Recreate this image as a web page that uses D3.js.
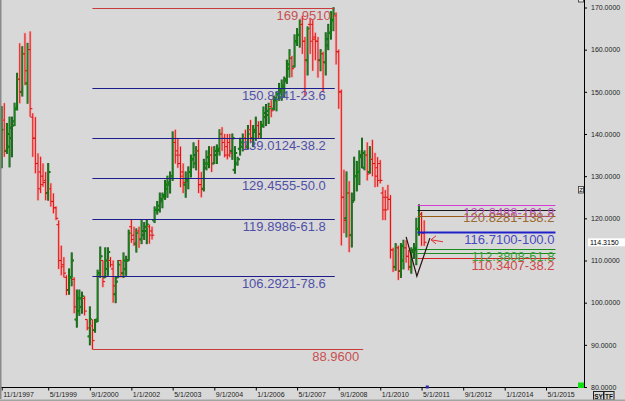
<!DOCTYPE html>
<html>
<head>
<meta charset="utf-8">
<title>EURJPY monthly bars with fib levels</title>
<script src="https://cdn.jsdelivr.net/npm/d3@7"></script>
<style>
  body { margin: 0; background: #d8d8d8; }
  svg { display: block; font-family: Arial, "Liberation Sans", sans-serif; }
</style>
</head>
<body>
<div id="chart"></div>
<script>
// monthly OHLC, first bar Nov 1997
var firstMonth = "1997-11-01";
var opens = [134,143.3,136,137,139,143,146,153,150,159,152,160,144,139,133,131,130,129,126,127,124,122.5,118.5,110,109,106,103,106,105.5,96,98,99,101,96,92,94.5,93.5,96,107,110,106,108,110,108,102,106,110,107,108,110,118,116,114,117,115,116,117,118,117,119.5,122,122,124,125,127,128,130,138,136,135,131,128,129,131,134,133,136,128,127,132,133,135,133,135,136,140,139,137,138,136,131.5,133,136.5,137,139,137,141,139,140.5,142,140,142,144,144.5,146.5,146,148,149.5,150,151,152.5,155.5,158,156,162,163.5,166,162,157.5,166,166,163,162,157.5,159,157,161,164,167,168,159.5,150,125,120,126,116,124,130,131,134.5,132,135,131,134,133,132,133,126,125,125,124.5,112.5,108.5,113,107.5,110,113,111,108.5,112,112.5,117.5,121,116.5];
var highs = [146.5,147.3,142.5,144,144,147.3,154.4,161.5,160.7,163.9,161.5,164.3,144.9,144,135.4,134.6,133,131,133,128.3,125.9,122.8,119.5,113.5,110.8,106.5,108,111.8,106,103,103,102.5,101.5,96,99,96,96,107.7,113.2,110,113,113,110.8,110,106,110,110,111.8,111,117.2,119.6,118,117.5,118,119.7,119,119.5,118.5,118,122.7,124,126,126,129,130,131,140.5,141,139,137,133,131,132.2,135,137.9,137,138.6,131,134,136,137,137,137,137.4,141,141.6,140,140,140,140,137,134.5,139,140,141,142,143.3,142,144,143,143,146.4,147,147.3,148,149,150,152,152.8,153.5,157.5,160,158.5,163.5,165,167,168,163,165.4,167.5,167,164,163,160,159.5,164,166,169,169.951,168.8,160,150.5,131.5,131,128.8,126,134.5,133.5,136,139,136,138,137,138.6,135.5,134.5,133.8,127.4,126.7,127.9,125.5,113,114,113.5,114,114.8,114.8,112.5,113,114,120,123.2,121.5,119.5];
var lows = [132,134.6,135.4,132.2,134.6,142,145.7,147.3,149,151.6,147.3,144.1,134.6,130.7,124.3,126,127.5,124.3,124.3,122.8,121.2,119.6,108,106.5,106,101.8,102,104,97.5,94.2,97,97.5,97,93.5,90,88.96,93,95.5,106,103.7,106,106.5,108.4,100,100,106,106,106,106.5,110,114.2,113.5,112,113,114,115,114,114,115,119,121,121.5,122.5,124.5,125,126,129,133,132,127.4,126,125,127,129.8,132,131.5,126,125,126.5,131.5,132,131,133,133,135,136,134.5,134,134.5,134,130.7,132.6,135,136,136.2,136.5,138,137,138.5,139,139,141.6,142,142.5,144,145.7,145.5,148,148,148.8,152,153.5,153.5,155.9,161,160.6,159,149,154,159,155,157.5,153.4,155,150,154,160,162.5,164.5,156.5,146,113.6,116.5,115.6,112,113.2,124.3,126.5,128,132,131.5,129,130.7,130,127.4,127.5,128.3,119.6,119.6,122,110.5,107.3,107.7,105.4,106,108,109.5,107.7,107,110.5,109,116,113.5,113.5];
var closes = [141,136,140,141.5,142,146,153,150,159,155,160,146,139,133,127,128,128.5,126,131,124,122.5,120,110,108.5,107,103,106,110,99,101,101,101.5,98,94,96,91,95.5,107,111,105,110,112,109,104,105,109,107,110,110,116.5,115,114,116.5,115,117,118,118.5,116,116,122,123,124.5,125.5,128,128.5,130,138,135,133,130,128.5,129,131,134,135,136,128,127,133,134.5,135,133,136,136.5,140,138,135,135,135.5,139,135.5,134,138,139,137,140,139,141,142,140,142,145,145.5,146,145.5,148.5,149.5,150.5,151.5,153,156.5,158,155.5,162,163.5,166,162,157.5,165,162,162.5,162,157.5,159,157,162.5,164,167,168.5,159.5,150,125,119.5,126,116,124,130,131,135,135.5,135,130.5,134,133,130,129,129,122,122,124.5,112.5,108.5,113,107.5,113.5,113,111,108.5,112.5,113,117.5,121,116.5,114.315];

// axis ticks
var dateTicks = ["1997-11-01","1999-05-01","2000-09-01","2002-01-01","2003-05-01","2004-09-01","2006-01-01","2007-05-01","2008-09-01","2010-01-01","2011-05-01","2012-09-01","2014-01-01","2015-05-01"];
var dateLabels = ["11/1/1997","5/1/1999","9/1/2000","1/1/2002","5/1/2003","9/1/2004","1/1/2006","5/1/2007","9/1/2008","1/1/2010","5/1/2011","9/1/2012","1/1/2014","5/1/2015"];
var priceTicks = [80, 90, 100, 110, 120, 130, 140, 150, 160, 170];

// fib retracement 88.96 -> 169.951
var retrStart = "2000-10-01";
var retrEnd = "2008-07-16";
var retrValues = [169.951, 150.8341, 139.0124, 129.4555, 119.8986, 106.2921, 88.96];
var retrLabels = ["169.9510", "150.8341-23.6", "139.0124-38.2", "129.4555-50.0", "119.8986-61.8", "106.2921-78.6", "88.9600"];
var retrEnds = [retrEnd, retrEnd, retrEnd, retrEnd, retrEnd, retrEnd, "2009-06-15"];

// fib expansion on the right
var extStart = "2011-03-15";
var extEnd = "2015-08-20";
var extValues = [123.1, 122.0, 120.5, 116.71, 112.66, 111.7, 110.6];
var extLabels = ["122.8488-161.8", "120.8281-138.2", "", "116.7100-100.0", "112.3808-61.8", "", "110.3407-38.2"];
var extColors = ["#d43cd4", "#1a1a1a", "#9a5a14", "#2020c8", "#1a8a1a", "#1a8a1a", "#d42020"];
var extLabelColors = ["#c050c0", "#9a6a30", "", "#4848c0", "#40a040", "", "#d04848"];

// trend lines drawn on the chart
var zigDates = ["2010-11-01", "2011-03-07", "2011-08-07"];
var zigValues = [115.6, 106.3, 115.3];
var lastPrice = 114.315;

var W = 625, H = 401;
var parse = d3.timeParse("%Y-%m-%d");

var x = d3.scaleTime()
  .domain([parse("1997-11-01"), parse("2015-05-01")])
  .range([1.7, 546]);
var y = d3.scaleLinear().domain([80, 170]).range([387, 7.5]);

var svg = d3.select("#chart").append("svg")
  .attr("width", W).attr("height", H);

svg.append("rect").attr("width", W).attr("height", H).attr("fill", "#d8d8d8");

svg.append("clipPath").attr("id", "plot")
  .append("rect").attr("x", 0).attr("y", 0).attr("width", 584).attr("height", 388);

var plot = svg.append("g").attr("clip-path", "url(#plot)");

// bars
var start = parse(firstMonth);
var bars = opens.map(function(o, i) {
  return { date: d3.timeMonth.offset(start, i), o: o, h: highs[i], l: lows[i], c: closes[i] };
});

function drawBars(under) {
  var g = plot.append("g");
  bars.forEach(function(d) {
    var up = d.c >= d.o;
    var col = under ? (up ? "#214a21" : "#f0b0b0") : (up ? "#0c900c" : "#dc1010");
    var w = under ? (up ? 2 : 2.8) : 1;
    var cx = x(d.date);
    g.append("line").attr("x1", cx).attr("x2", cx)
      .attr("y1", y(d.h) - (under ? 0.5 : 0)).attr("y2", y(d.l) + (under ? 0.5 : 0))
      .attr("stroke", col).attr("stroke-width", w);
    g.append("line").attr("x1", cx - 2.2).attr("x2", cx)
      .attr("y1", y(d.o)).attr("y2", y(d.o))
      .attr("stroke", col).attr("stroke-width", under ? 2 : 1);
    g.append("line").attr("x1", cx).attr("x2", cx + 2.2)
      .attr("y1", y(d.c)).attr("y2", y(d.c))
      .attr("stroke", col).attr("stroke-width", under ? 2 : 1);
  });
}
drawBars(true);
drawBars(false);

// retracement levels
var fib = plot.append("g");
retrValues.forEach(function(v, i) {
  var red = (i === 0 || i === retrValues.length - 1);
  var yy = Math.round(y(v)) + 0.5;
  var x2 = x(parse(retrEnds[i]));
  fib.append("line")
    .attr("x1", x(parse(retrStart))).attr("x2", x2)
    .attr("y1", yy).attr("y2", yy)
    .attr("stroke", red ? "#c83c3c" : "#1c1c8c").attr("stroke-width", 1);
  fib.append("text")
    .attr("x", x2 - (red ? 4 : 9)).attr("y", yy + 11.5)
    .attr("text-anchor", "end")
    .attr("font-size", "13px")
    .attr("fill", red ? "#c85050" : "#5050a8")
    .text(retrLabels[i]);
});

// expansion levels
var ext = plot.append("g");
extValues.forEach(function(v, i) {
  var yy = Math.round(y(v)) + 0.5;
  ext.append("line")
    .attr("x1", x(parse(extStart))).attr("x2", x(parse(extEnd)))
    .attr("y1", yy).attr("y2", yy)
    .attr("stroke", extColors[i]).attr("stroke-width", i === 3 ? 2 : 1.2);
});
extValues.forEach(function(v, i) {
  if (!extLabels[i]) return;
  var yy = Math.round(y(v)) + 0.5;
  ext.append("text")
    .attr("x", x(parse(extEnd)) - 1).attr("y", yy + 11)
    .attr("text-anchor", "end")
    .attr("font-size", "13px")
    .attr("fill", extLabelColors[i])
    .text(extLabels[i]);
});

// zigzag + arrow
var zig = d3.line()
  .x(function(d, i) { return x(parse(zigDates[i])); })
  .y(function(d) { return y(d); });
plot.append("path").datum(zigValues)
  .attr("d", zig).attr("fill", "none")
  .attr("stroke", "#2a1010").attr("stroke-width", 1.2);

var ax = x(parse("2011-08-20")), ay = y(lastPrice) - 2.5;
plot.append("path")
  .attr("d", "M" + (ax + 12) + "," + (ay + 2) + "L" + ax + "," + ay +
    "M" + (ax + 5) + "," + (ay - 4) + "L" + ax + "," + ay + "L" + (ax + 5) + "," + (ay + 4))
  .attr("fill", "none").attr("stroke", "#e03030").attr("stroke-width", 1);

// right axis
var yAxis = d3.axisRight(y).tickValues(priceTicks).tickSize(3).tickPadding(4)
  .tickFormat(d3.format(".4f"));
var ya = svg.append("g").attr("transform", "translate(584,0)").call(yAxis);
ya.select(".domain").remove();
ya.selectAll("text").attr("font-size", "7px").attr("fill", "#222").attr("font-family", "Arial, sans-serif");
ya.selectAll("line").attr("stroke", "#000");
svg.append("line").attr("x1", 584.5).attr("x2", 584.5).attr("y1", 0).attr("y2", 388)
  .attr("stroke", "#000").attr("stroke-width", 1);

// bottom axis
var xAxis = d3.axisBottom(x)
  .tickValues(dateTicks.map(parse)).tickSize(3)
  .tickFormat(function(d, i) { return dateLabels[i]; });
var xa = svg.append("g").attr("transform", "translate(0,387.5)").call(xAxis);
xa.select(".domain").remove();
xa.selectAll("line").attr("stroke", "#000");
xa.selectAll("text").attr("font-size", "7px").attr("fill", "#222")
  .attr("font-family", "Arial, sans-serif")
  .attr("text-anchor", "start").attr("x", 1).attr("y", 9.5).attr("dy", 0);
svg.append("line").attr("x1", 0).attr("x2", 585).attr("y1", 387.5).attr("y2", 387.5)
  .attr("stroke", "#000");

// last price tag
var ly = y(lastPrice);
svg.append("rect").attr("x", 588).attr("y", ly - 4).attr("width", 37).attr("height", 8)
  .attr("fill", "#fff");
svg.append("text").attr("x", 590).attr("y", ly + 2.5)
  .attr("font-size", "7px").attr("fill", "#000").text(d3.format(".4f")(lastPrice));

// blue marker on time axis
svg.append("rect").attr("x", x(parse("2011-07-01")) - 1).attr("y", 385.5)
  .attr("width", 3).attr("height", 3).attr("fill", "#2828a0");

// small widgets
svg.append("rect").attr("x", 578).attr("y", 382.5).attr("width", 6).attr("height", 5.5)
  .attr("fill", "#10e010");
svg.append("rect").attr("x", 578.5).attr("y", 186.5).attr("width", 5).attr("height", 6.5)
  .attr("fill", "#e8e8e8").attr("stroke", "#333").attr("stroke-width", 0.8);
svg.append("text").attr("x", 579.3).attr("y", 192).attr("font-size", "6px").text("Z");
svg.append("rect").attr("x", 578.5).attr("y", -3).attr("width", 5).attr("height", 5)
  .attr("fill", "#e8e8e8").attr("stroke", "#333").attr("stroke-width", 0.8);

["SY", "TF"].forEach(function(t, i) {
  svg.append("rect").attr("x", 593.5 + i * 10.5).attr("y", 391.5).attr("width", 10).attr("height", 8.5)
    .attr("fill", "#d8d8d8").attr("stroke", "#222").attr("stroke-width", 1);
  svg.append("text").attr("x", 598.5 + i * 10.5).attr("y", 398.5).attr("text-anchor", "middle")
    .attr("font-size", "6.5px").attr("font-weight", "bold").attr("fill", "#111").text(t);
});

// frame
svg.append("line").attr("x1", 0.75).attr("x2", 0.75).attr("y1", 0).attr("y2", 399)
  .attr("stroke", "#8a8a8a").attr("stroke-width", 1.5);
svg.append("rect").attr("x", 0).attr("y", 399.5).attr("width", W).attr("height", 2)
  .attr("fill", "#a4a4a4");
</script>
</body>
</html>
